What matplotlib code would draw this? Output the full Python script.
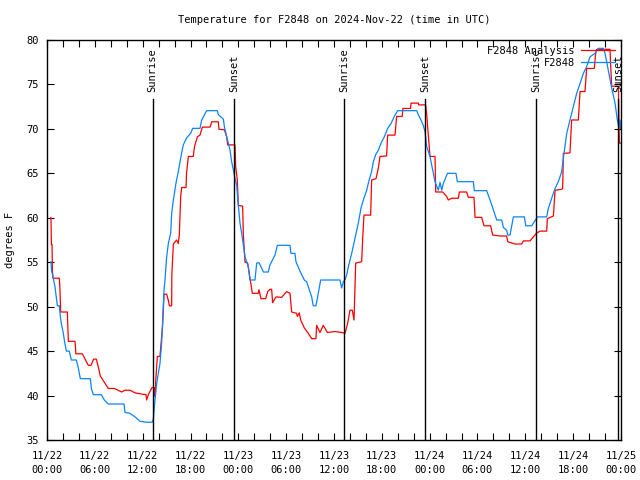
import matplotlib
matplotlib.use("Agg")
import matplotlib.pyplot as plt
from matplotlib.ticker import MultipleLocator

# ---- data (hours since 2024-11-22 00:00 UTC, degrees F) ----
analysis_hours = [0.45, 0.5, 0.55, 0.63, 0.68, 0.75, 1.55, 1.62, 1.72, 2.55, 2.62, 2.68, 3.51, 3.58, 3.62, 4.43,
                  5.18, 5.52, 5.85, 6.19, 6.44, 6.69, 7.69, 8.45, 9.37, 9.78, 10.41, 11.04, 11.66, 12.42, 12.5,
                  12.71, 13.0, 13.17, 13.46, 13.55, 13.67, 13.84, 14.17, 14.38, 14.5, 14.68, 15.01, 15.22, 15.35,
                  15.64, 15.66, 15.85, 16.26, 16.47, 16.6, 16.77, 16.89, 17.44, 17.5, 17.73, 18.35, 18.5, 18.86,
                  19.19, 19.49, 20.45, 20.66, 21.49, 21.58, 22.25, 22.54, 22.66, 23.58, 23.67, 23.87, 24.0, 24.54,
                  24.63, 24.84, 25.17, 25.46, 25.76, 26.5, 26.59, 26.84, 27.43, 27.68, 27.97, 28.18, 28.3, 28.72,
                  29.43, 30.06, 30.48, 30.69, 31.31, 31.4, 31.65, 31.82, 32.28, 32.78, 33.2, 33.74, 33.82, 34.24,
                  34.66, 35.16, 36.12, 36.96, 37.38, 37.71, 38.0, 38.3, 38.51, 38.72, 39.47, 39.6, 39.76, 40.6,
                  40.72, 41.27, 41.56, 41.77, 42.6, 42.73, 43.65, 43.86, 44.55, 44.65, 45.6, 45.66, 46.58, 46.62,
                  47.5, 47.63, 47.83, 48.04, 48.67, 48.76, 49.63, 50.13, 50.34, 50.76, 51.6, 51.72, 52.64, 52.85,
                  53.56, 53.69, 54.52, 54.82, 55.65, 55.9, 56.82, 57.66, 57.79, 58.71, 59.54, 59.75, 60.59, 61.38,
                  61.84, 62.68, 62.76, 63.52, 63.73, 64.56, 64.68, 64.77, 65.6, 65.81, 66.65, 66.86, 67.48, 67.69,
                  68.65, 68.82, 68.95, 70.62, 70.7, 70.83, 71.46, 71.67, 71.79, 71.96]
analysis_temps = [60.0, 60.0, 57.0, 57.0, 54.0, 53.2, 53.2, 52.0, 49.4, 49.4, 47.5, 46.1, 46.1, 45.4, 44.7, 44.7,
                  43.4, 43.4, 44.1, 44.1, 43.2, 42.2, 40.8, 40.8, 40.4, 40.6, 40.6, 40.3, 40.2, 40.1, 39.5,
                  40.1, 40.6, 40.9, 40.9, 39.9, 42.1, 44.4, 44.4, 46.6, 47.9, 51.4, 51.4, 50.7, 50.1,
                  50.1, 53.6, 57.05, 57.5, 57.1, 58.1, 62.4, 63.4, 63.4, 65.0, 66.9, 66.9, 68.0, 69.1,
                  69.3, 70.2, 70.2, 70.8, 70.8, 69.95, 69.9, 69.1, 68.2, 68.2, 65.75, 64.25, 61.4, 61.3,
                  58.1, 55.0, 54.9, 53.2, 51.5, 51.5, 51.9, 50.9, 50.9, 51.7, 51.95, 51.95, 50.45, 51.1,
                  51.05, 51.7, 51.5, 49.4, 49.25, 48.9, 49.3, 48.5, 47.6, 47.0, 46.4, 46.4, 47.9, 47.1,
                  47.9, 47.1, 47.2, 47.1, 47.0, 48.1, 49.6, 49.6, 48.5, 54.9, 55.06, 57.7, 60.3, 60.3,
                  64.25, 64.4, 65.6, 66.9, 66.95, 69.3, 69.3, 71.4, 71.4, 72.3, 72.3, 72.9, 72.9, 72.7,
                  72.7, 71.6, 69.3, 66.9, 66.9, 62.9, 62.9, 62.4, 62.0, 62.2, 62.2, 62.9, 62.9, 62.3,
                  62.3, 60.05, 60.05, 59.1, 59.1, 58.06, 57.95, 57.95, 57.3, 57.05, 57.05, 57.4, 57.4, 58.25,
                  58.5, 58.5, 59.9, 60.2, 63.1, 63.2, 63.3, 67.25, 67.3, 71.0, 71.0, 74.2, 74.2, 76.8,
                  76.8, 78.5, 78.95, 78.95, 77.2, 74.8, 74.8, 74.75, 68.4, 68.4]

obs_hours = [0.5, 0.58, 0.75, 1.0, 1.13, 1.3, 1.55, 1.67, 1.8, 1.92, 2.05, 2.17, 2.43, 2.8, 3.05, 3.68, 3.93,
             4.18, 5.44, 5.56, 5.81, 6.81, 7.19, 7.69, 9.66, 9.78, 10.41, 11.04, 11.66, 12.5, 13.21, 13.34,
             13.55, 13.76, 13.97, 14.17, 14.38, 14.59, 14.68, 14.8, 15.01, 15.22, 15.51, 15.64, 15.85, 16.18,
             16.47, 16.89, 17.1, 17.52, 18.02, 18.27, 19.19, 19.4, 20.03, 21.37, 21.49, 22.12, 22.25, 22.54,
             22.75, 22.96, 23.16, 23.37, 23.58, 23.79, 24.0, 24.21, 24.42, 24.63, 24.84, 25.25, 25.46, 26.09,
             26.3, 26.59, 26.84, 27.14, 27.76, 27.97, 28.18, 28.6, 28.89, 30.48, 30.6, 31.1, 31.23, 31.73,
             32.28, 32.57, 32.9, 33.2, 33.4, 33.74, 34.03, 34.33, 36.75, 36.96, 37.17, 37.38, 37.6, 37.8,
             38.22, 38.63, 39.05, 39.39, 39.68, 40.1, 40.39, 40.72, 40.93, 41.23, 41.56, 41.9, 42.31, 42.73,
             43.15, 43.57, 43.98, 46.37, 46.58, 46.91, 47.2, 47.41, 47.63, 48.04, 48.38, 48.67, 49.09, 49.3,
             49.51, 49.72, 49.93, 50.22, 51.3, 51.47, 53.48, 53.6, 55.15, 55.57, 55.99, 56.41, 57.04, 57.25,
             57.66, 57.79, 58.08, 58.5, 59.88, 60.05, 60.8, 61.3, 61.55, 62.68, 62.89, 63.31, 63.73, 64.14,
             64.35, 64.56, 64.77, 65.19, 65.6, 66.02, 66.44, 66.86, 67.28, 67.69, 68.11, 68.74, 69.16, 69.78,
             70.0, 70.41, 70.83, 71.25, 71.54, 71.71, 71.88, 71.96]
obs_temps = [55.06, 54.0, 53.4, 52.25, 51.3, 50.1, 50.1, 48.9, 48.1, 47.6, 47.0, 46.25, 45.0, 45.0, 44.0, 44.0, 43.1,
             41.9, 41.9, 40.8, 40.1, 40.1, 39.5, 39.05, 39.05, 38.1, 38.0, 37.6, 37.1, 37.0, 37.0, 37.4,
             39.5, 41.4, 42.5, 43.6, 45.9, 50.0, 51.9, 53.0, 55.6, 57.1, 58.25, 60.5, 62.0, 63.9,
             65.2, 67.3, 68.2, 69.0, 69.5, 70.06, 70.06, 71.0, 72.05, 72.05, 71.6, 71.1, 70.25, 69.1,
             68.4, 67.6, 66.3, 65.4, 64.4, 63.7, 61.4, 59.4, 58.25, 56.9, 55.6, 54.5, 53.0, 53.0,
             54.9, 54.95, 54.5, 53.9, 53.9, 54.7, 55.06, 55.8, 56.9, 56.9, 56.0, 56.0, 55.06, 54.0,
             53.0, 52.8, 51.9, 51.1, 50.1, 50.1, 51.5, 53.0, 53.0, 52.1, 52.8, 53.0, 53.6, 54.5,
             56.0, 57.7, 59.4, 61.1, 62.0, 63.1, 64.2, 65.2, 66.3, 67.1, 67.6, 68.4, 69.1, 70.06,
             70.6, 71.4, 72.05, 72.05, 71.6, 71.0, 70.4, 69.7, 68.0, 66.9, 65.4, 64.06, 63.1, 64.0,
             63.1, 63.9, 64.3, 65.0, 65.0, 64.06, 64.06, 63.05, 63.05, 62.0, 60.9, 59.75, 59.75, 58.9,
             58.6, 58.06, 58.06, 60.1, 60.1, 59.1, 59.1, 59.8, 60.1, 60.1, 61.06, 62.2, 63.3, 64.06,
             64.6, 65.2, 66.7, 69.5, 71.0, 72.5, 74.0, 75.1, 76.25, 77.0, 78.1, 78.5, 79.06, 79.06,
             78.5, 76.6, 74.6, 72.9, 71.0, 70.25, 71.0, 70.06]

sun_hours = [13.25, 23.48, 37.3, 47.46, 61.38, 71.67]
sun_labels = ["Sunrise", "Sunset", "Sunrise", "Sunset", "Sunrise", "Sunset"]

tick_hours = [0, 6, 12, 18, 24, 30, 36, 42, 48, 54, 60, 66, 72]
tick_labels = ["11/22\n00:00", "11/22\n06:00", "11/22\n12:00", "11/22\n18:00",
               "11/23\n00:00", "11/23\n06:00", "11/23\n12:00", "11/23\n18:00",
               "11/24\n00:00", "11/24\n06:00", "11/24\n12:00", "11/24\n18:00",
               "11/25\n00:00"]

title = "Temperature for F2848 on 2024-Nov-22 (time in UTC)"

# ---- plot ----
plt.rcParams['font.family'] = ['DejaVu Sans Mono']
FS = 7.5
fig = plt.figure(figsize=(6.4, 4.8), dpi=100)
ax = fig.add_axes([47/640, 40/480, (621-47)/640, 400/480])

ax.plot(analysis_hours, analysis_temps, color='#ff0000', lw=0.9, label='F2848 Analysis')
ax.plot(obs_hours, obs_temps, color='#0a84ff', lw=0.9, label='F2848')

for h, lab in zip(sun_hours, sun_labels):
    ax.plot([h, h], [35, 73.4], color='black', lw=1.0)
    ax.text(h, 74.15, lab, rotation=90, ha='center', va='bottom', fontsize=FS)

ax.set_xlim(0, 72)
ax.set_ylim(35, 80)
ax.set_xticks(tick_hours)
ax.set_xticklabels(tick_labels)
ax.xaxis.set_minor_locator(MultipleLocator(2))
ax.yaxis.set_major_locator(MultipleLocator(5))
ax.tick_params(axis='both', which='both', direction='in', top=True, right=True,
               labelsize=FS, width=0.8)
ax.tick_params(axis='both', which='major', length=5)
ax.tick_params(axis='x', which='minor', length=5)
ax.tick_params(axis='x', which='major', pad=8)
ax.tick_params(axis='y', which='major', pad=6)
for lbl in ax.get_xticklabels():
    lbl.set_linespacing(1.5)
for s in ax.spines.values():
    s.set_linewidth(1.0)

leg = ax.legend(loc='upper right', bbox_to_anchor=(0.99, 0.985), frameon=False,
                markerfirst=False, fontsize=FS, handlelength=3.3, handletextpad=0.6,
                labelspacing=0.15, borderaxespad=0, borderpad=0)

fig.text(334/640, 1 - 20/480, title, ha='center', va='center', fontsize=FS)
fig.text(10/640, 0.5, "degrees F", rotation=90, ha='center', va='center', fontsize=FS)

fig.savefig("out.png", dpi=100)
